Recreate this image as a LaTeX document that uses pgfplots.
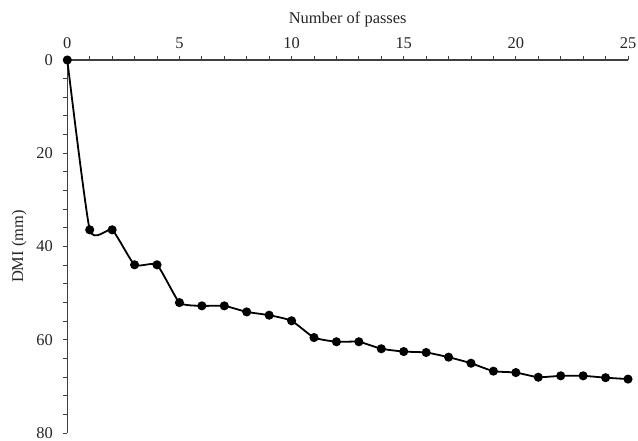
\documentclass[border=0pt]{standalone}
\usepackage{fontspec}
\setmainfont{Liberation Serif}
\usepackage{pgfplots}
\pgfplotsset{compat=1.18}
\begin{document}
\begin{tikzpicture}
\begin{axis}[
  scale only axis,
  width=560.7bp, height=373.2bp,
  xmin=0, xmax=25, ymin=0, ymax=80,
  y dir=reverse,
  axis x line=top, axis y line=left,
  axis line style={-, line width=1.1bp, black!75},
  xtick={0,5,...,25}, ytick={0,20,...,80},
  minor x tick num=4, minor y tick num=4,
  tick align=outside,
  major tick length=4bp, minor tick length=4bp,
  tick style={line width=1bp, black!75},
  /pgf/number format/assume math mode=true,
  tick label style={font=\fontsize{16.5}{18}\selectfont, text=black!85},
  xticklabel style={yshift=4bp},
  yticklabel style={xshift=-7bp},
  label style={font=\fontsize{16.5}{18}\selectfont, text=black!85},
  xlabel={Number of passes},
  ylabel={DMI (mm)},
  xlabel shift=4bp,
  ylabel shift=3bp,
  clip=false,
]
\addplot[smooth, tension=0.3, line width=1.8bp, black,
  mark=*, mark size=3.6bp, mark options={fill=black}]
  table {
x y
0 0
1 36.4
2 36.4
3 43.9
4 43.9
5 52.0
6 52.7
7 52.7
8 54.0
9 54.7
10 55.9
11 59.5
12 60.4
13 60.4
14 61.9
15 62.5
16 62.7
17 63.7
18 65.0
19 66.7
20 67.0
21 68.0
22 67.7
23 67.7
24 68.1
25 68.4
};
\end{axis}
\pgfresetboundingbox
\path[use as bounding box]
  ([shift={(-67.3bp,-7.8bp)}]current axis.south west)
  rectangle ([shift={(10bp,60bp)}]current axis.north east);
\end{tikzpicture}
\end{document}
